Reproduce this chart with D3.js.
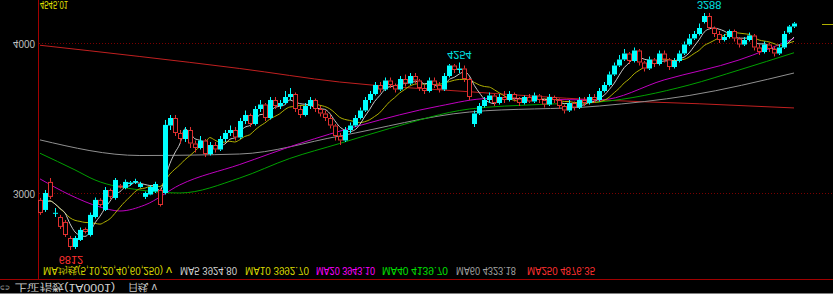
<!DOCTYPE html>
<html><head><meta charset="utf-8">
<script src="https://cdn.jsdelivr.net/npm/d3@7"></script>
<style>html,body{margin:0;padding:0;background:#000;overflow:hidden}</style>
</head><body>
<svg id="c" width="833" height="294"></svg>
<script>
const opens  = [2954,2887,3074,2865,2840,2807,2700,2640,2687,2760,2720,2840,2954,2887,3020,2967,3050,3034,3060,3070,3040,2974,2990,3010,3020,3000,3450,3500,3400,3360,3420,3330,3300,3350,3260,3320,3290,3360,3400,3420,3370,3480,3520,3460,3560,3590,3500,3620,3580,3600,3640,3660,3560,3520,3580,3620,3560,3530,3500,3450,3380,3350,3420,3450,3500,3550,3620,3660,3720,3690,3750,3720,3690,3760,3730,3780,3750,3700,3680,3750,3720,3690,3780,3850,3820,3830,3760,3460,3530,3580,3620,3650,3600,3640,3620,3660,3630,3600,3640,3610,3650,3620,3590,3640,3620,3580,3550,3600,3570,3620,3600,3640,3620,3680,3720,3790,3850,3890,3930,3880,3950,3870,3830,3890,3860,3930,3890,3840,3880,3930,3990,4030,4060,4140,4180,4100,4060,4020,4040,4080,4030,3990,4020,4050,3970,3940,3990,3960,3930,3970,4070,4110];
const highs  = [2967,3020,3100,2900,2854,2820,2714,2714,2770,2770,2870,2970,2965,3040,3030,3100,3060,3090,3080,3095,3075,3010,3050,3075,3030,3487,3520,3520,3420,3440,3440,3350,3380,3360,3340,3340,3380,3420,3450,3440,3500,3550,3530,3580,3620,3600,3640,3640,3620,3680,3700,3670,3580,3600,3640,3630,3580,3550,3520,3460,3400,3440,3470,3520,3570,3640,3680,3740,3740,3770,3770,3730,3780,3790,3800,3800,3760,3720,3770,3770,3740,3800,3860,3860,3870,3850,3770,3550,3600,3640,3670,3660,3660,3680,3680,3670,3640,3650,3660,3670,3660,3630,3660,3650,3630,3590,3620,3610,3640,3640,3660,3660,3700,3740,3810,3870,3920,3960,3940,3970,3960,3880,3910,3900,3950,3950,3900,3900,3950,4010,4060,4080,4130,4200,4200,4110,4080,4060,4090,4090,4040,4040,4070,4060,3990,4010,4000,3980,3990,4080,4120,4140];
const lows   = [2854,2874,2960,2840,2760,2707,2620,2627,2680,2730,2710,2830,2910,2880,2960,2955,3030,3025,3050,3060,3035,2960,2985,3000,2910,2990,3420,3380,3330,3340,3300,3270,3290,3240,3250,3270,3280,3340,3380,3350,3360,3460,3440,3450,3540,3480,3490,3560,3560,3590,3620,3540,3500,3510,3560,3540,3510,3480,3430,3350,3320,3340,3400,3440,3490,3540,3600,3650,3670,3680,3700,3670,3680,3710,3720,3730,3680,3660,3670,3700,3670,3680,3770,3800,3800,3740,3620,3440,3520,3570,3600,3580,3590,3600,3610,3610,3580,3590,3600,3600,3600,3570,3580,3600,3560,3530,3540,3550,3560,3580,3590,3600,3610,3670,3710,3780,3840,3880,3860,3870,3850,3810,3820,3840,3850,3870,3820,3830,3870,3920,3980,4020,4050,4130,4090,4040,4000,4010,4030,4010,3970,3980,4010,3950,3920,3930,3940,3910,3920,3960,4060,4100];
const closes = [2867,3000,2974,2868,2774,2720,2640,2700,2754,2740,2854,2954,2920,3020,2974,3087,3040,3074,3070,3080,3060,3000,3040,3060,2920,3454,3500,3400,3360,3420,3330,3300,3350,3260,3320,3290,3360,3400,3420,3370,3480,3520,3460,3560,3590,3500,3620,3580,3600,3640,3660,3560,3520,3580,3620,3560,3530,3500,3450,3380,3350,3420,3450,3500,3550,3620,3660,3720,3690,3750,3720,3690,3760,3730,3780,3750,3700,3680,3750,3720,3690,3780,3850,3820,3830,3760,3640,3530,3580,3620,3650,3600,3640,3620,3660,3630,3600,3640,3610,3650,3620,3590,3640,3620,3580,3550,3600,3570,3620,3600,3640,3620,3680,3720,3790,3850,3890,3930,3880,3950,3870,3830,3890,3860,3930,3890,3840,3880,3930,3990,4030,4060,4100,4180,4100,4060,4020,4040,4080,4030,3990,4020,4050,3970,3940,3990,3960,3930,3970,4060,4110,4130];

// moving-average lines: [candle index, value]
const ma20  = [[0,3094],[6,2987],[12,2907],[16,2880],[21,2920],[28,3054],[40,3190],[52,3330],[64,3450],[80,3580],[90,3630],[100,3625],[112,3620],[125,3754],[140,3887],[151,4030]];
const ma40  = [[0,3265],[7,3154],[11,3087],[20,3020],[28,3000],[40,3100],[50,3230],[60,3330],[70,3430],[86,3560],[100,3590],[112,3607],[130,3720],[140,3820],[151,3935]];
const ma60  = [[0,3354],[20,3250],[40,3260],[60,3380],[86,3540],[112,3580],[130,3650],[151,3800]];
const ma250 = [[0,3985],[20,3910],[40,3830],[60,3740],[86,3675],[112,3620],[132,3595],[151,3567]];

const yTicks = [4000, 3000];
const legendItems = [
  {t:"MA均线(5,10,20,40,60,250)", c:"#d8d800", x:43, w:120},
  {t:"v", c:"#d8d800", x:166, w:6},
  {t:"MA5 3924.80",  c:"#d0d0d0", x:180, w:57},
  {t:"MA10 3992.70", c:"#d8d800", x:245, w:64},
  {t:"MA20 3943.10", c:"#ff00ff", x:316, w:59},
  {t:"MA40 4139.70", c:"#00e000", x:382, w:66},
  {t:"MA60 4323.18", c:"#a0a0a0", x:456, w:60},
  {t:"MA250 4876.35",c:"#ff3030", x:527, w:68}
];
const topLabel = "4545.01";
const markLabels = [{i:6, v:2620, t:"6812", c:"#ff3030", pos:"below"},
                    {i:84, v:3870, t:"4254", c:"#00e0e0", pos:"above"},
                    {i:134, v:4200, t:"3288", c:"#00e0e0", pos:"above"}];
const footer = [{t:"⊂⊃", x:0, w:10, s:8},{t:"上证指数(1A0001)", x:15, w:100, s:10},{t:"日线 v", x:128, w:29, s:10}];

const svg = d3.select("#c");
const W = 833, H = 294;
const n = closes.length;
const x = d3.scaleLinear().domain([0, n-1]).range([40, 794]);
const y = d3.scaleLinear().domain([3000, 4000]).range([193, 43]);

function flipText(g, tx, ty, txt, color, anchor, size, w){
  const t = g.append("text")
    .attr("transform", `translate(${tx},${ty}) scale(1,-1)`)
    .attr("dominant-baseline","central")
    .attr("text-anchor", anchor||"start")
    .attr("fill", color)
    .attr("font-size", size||10)
    .attr("font-family", "'Liberation Sans', Arial, sans-serif")
    .text(txt);
  if (w) t.attr("textLength", w).attr("lengthAdjust","spacingAndGlyphs");
  return t;
}

// grid
const grid = svg.append("g");
yTicks.forEach(v=>{
  grid.append("line").attr("x1",39).attr("x2",W).attr("y1",Math.round(y(v))+0.5).attr("y2",Math.round(y(v))+0.5)
   .attr("stroke","#7a0000").attr("stroke-dasharray","1,2").attr("stroke-width",1);
  flipText(grid, 35, y(v), String(v), "#c0c0c0", "end", 10, 22);
});

// axis lines
svg.append("line").attr("x1",38.5).attr("x2",38.5).attr("y1",0).attr("y2",280).attr("stroke","#a00000");
svg.append("line").attr("x1",0).attr("x2",W).attr("y1",279.5).attr("y2",279.5).attr("stroke","#a00000");
svg.append("line").attr("x1",0).attr("x2",W).attr("y1",293.5).attr("y2",293.5).attr("stroke","#808080");

// MA lines
function ma(k){
  return closes.map((c,i)=>{const s=closes.slice(Math.max(0,i-k+1),i+1);return [i, d3.mean(s)];});
}
const line = d3.line().x(d=>x(d[0])).y(d=>y(d[1])).curve(d3.curveMonotoneX);
const lines = [
  {d:ma250, c:"#c02020"},
  {d:ma60, c:"#909090"},
  {d:ma40, c:"#00a000"},
  {d:ma20, c:"#c000c0"},
  {d:ma(10), c:"#b0b000"},
  {d:ma(5), c:"#c8c8c8"}
];
lines.forEach(l=> svg.append("path").attr("d", line(l.d)).attr("fill","none").attr("stroke",l.c).attr("stroke-width",1));

// last price marker at right edge
svg.append("line").attr("x1",822).attr("x2",W).attr("y1",Math.round(y(closes[n-1]))+0.5).attr("y2",Math.round(y(closes[n-1]))+0.5).attr("stroke","#b0b000");

// candles
const cg = svg.append("g");
d3.range(n).forEach(i=>{
  const up = closes[i] >= opens[i];
  const col = up ? "#00ffff" : "#e03030";
  const cx = Math.round(x(i)) + 0.5;
  const top = y(Math.max(opens[i],closes[i])), bot = y(Math.min(opens[i],closes[i]));
  cg.append("line").attr("x1",cx).attr("x2",cx).attr("y1",y(highs[i])).attr("y2",top).attr("stroke",col);
  cg.append("line").attr("x1",cx).attr("x2",cx).attr("y1",bot).attr("y2",y(lows[i])).attr("stroke",col);
  if(up){
    cg.append("rect").attr("x",cx-2.5).attr("y",top).attr("width",5).attr("height",Math.max(1,bot-top)).attr("fill",col);
  } else {
    cg.append("rect").attr("x",cx-2).attr("y",top+0.5).attr("width",4).attr("height",Math.max(1,bot-top-1)).attr("fill","#000").attr("stroke",col);
  }
});

// labels
markLabels.forEach(m=>{
  const ty = m.pos==="above" ? y(m.v)-8 : y(m.v)+10;
  flipText(svg, x(m.i)+ (m.pos==="below"?1:0), ty, m.t, m.c, "middle", 11);
});
flipText(svg, 40, 5, topLabel, "#e0e000", "start", 11, 28);

// legend
legendItems.forEach(l=> flipText(svg, l.x, 270, l.t, l.c, "start", 10, l.w));
footer.forEach(f=> flipText(svg, f.x, 287, f.t, "#d0d0d0", "start", f.s, f.w));
</script>
</body></html>
